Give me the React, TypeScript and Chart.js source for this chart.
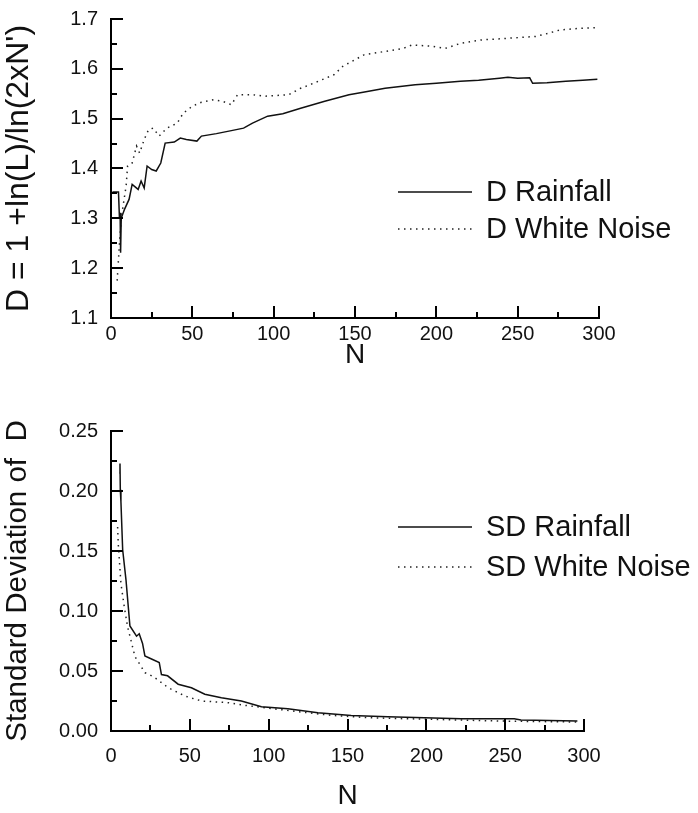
import React, { useEffect, useRef } from "react";
import { Chart, registerables } from "chart.js";

Chart.register(...registerables);

const FONT = "'Liberation Sans', Arial, Helvetica, sans-serif";

// ---------- Top panel: D vs N ----------
const rainN = [0.9, 4.6, 5.2, 5.6, 5.9, 6.3, 8.3, 11.1, 13, 16.7, 18.5, 20.4, 22.2, 25, 27.8, 30.6, 33.3, 38.9, 42.6, 46.3, 52.8, 55.6, 64.8, 74, 81.5, 87, 96.3, 105.6, 116.6, 131.4, 146.3, 155, 168.5, 187, 200, 214.8, 226, 238.8, 244, 250, 257.4, 259.2, 268, 279.6, 290, 299];
const rainD = [1.353, 1.353, 1.30, 1.311, 1.231, 1.30, 1.318, 1.338, 1.368, 1.358, 1.375, 1.361, 1.405, 1.398, 1.395, 1.411, 1.451, 1.453, 1.461, 1.458, 1.455, 1.465, 1.47, 1.476, 1.481, 1.491, 1.505, 1.51, 1.521, 1.535, 1.548, 1.553, 1.561, 1.568, 1.571, 1.575, 1.577, 1.581, 1.583, 1.581, 1.582, 1.571, 1.572, 1.575, 1.577, 1.579];

const noiseN = [3.8, 4.6, 5.4, 6.5, 9.3, 10.2, 13, 15.7, 17.6, 20.4, 23.1, 25.9, 29.6, 34.3, 40.7, 44.4, 50, 55.6, 63, 68.5, 74, 77.8, 87, 94.4, 109.2, 116.6, 122.2, 129.6, 137, 142.5, 148.1, 155.5, 168.5, 179.6, 185.1, 198.1, 205.5, 214.8, 227.7, 242.6, 261.1, 268.5, 275.9, 287, 300];
const noiseD = [1.175, 1.218, 1.26, 1.305, 1.365, 1.405, 1.411, 1.445, 1.431, 1.458, 1.478, 1.481, 1.465, 1.481, 1.491, 1.511, 1.525, 1.533, 1.538, 1.535, 1.528, 1.548, 1.548, 1.545, 1.548, 1.561, 1.568, 1.578, 1.588, 1.605, 1.615, 1.628, 1.635, 1.641, 1.648, 1.645, 1.641, 1.651, 1.658, 1.661, 1.665, 1.671, 1.678, 1.681, 1.683];

// ---------- Bottom panel: SD vs N ----------
const sdRainN = [5.2, 5.7, 5.9, 6.3, 7.4, 9.5, 12, 16.2, 17.9, 20, 21.5, 25.7, 30.6, 32, 35.9, 42.6, 51, 59.5, 70, 82.7, 95.4, 112.2, 131.2, 152.3, 175.5, 198.7, 222, 255.7, 260, 295.8];
const sdRainV = [0.215, 0.223, 0.201, 0.191, 0.151, 0.126, 0.0875, 0.079, 0.081, 0.073, 0.0625, 0.060, 0.057, 0.047, 0.046, 0.039, 0.036, 0.0306, 0.0278, 0.025, 0.0203, 0.0186, 0.0153, 0.013, 0.0119, 0.0111, 0.0103, 0.0103, 0.0092, 0.0083];

const sdNoiseN = [4.2, 4.6, 5.3, 6.3, 8.4, 10.5, 13.7, 15.2, 17.9, 21.5, 24.3, 27.8, 36.3, 46.8, 57.4, 74.3, 84.8, 100, 120.7, 140, 162.9, 185, 205, 225, 247.3, 270, 295.8];
const sdNoiseV = [0.170, 0.156, 0.1425, 0.123, 0.1036, 0.087, 0.070, 0.062, 0.0564, 0.0486, 0.047, 0.0444, 0.0361, 0.0292, 0.025, 0.0236, 0.0214, 0.019, 0.0158, 0.013, 0.0111, 0.0103, 0.0097, 0.009, 0.0083, 0.0079, 0.0075];

// ---------- Axis settings ----------
const xTickValues = [0, 50, 100, 150, 200, 250, 300];
const topYTickValues = [1.1, 1.2, 1.3, 1.4, 1.5, 1.6, 1.7];
const bottomYTickValues = [0, 0.05, 0.1, 0.15, 0.2, 0.25];

const topYTitle = "D = 1 +ln(L)/ln(2xN')";
const bottomYTitle = "Standard Deviation of  D";
const xTitle = "N";

const topLabels = ["D Rainfall", "D White Noise"];
const bottomLabels = ["SD Rainfall", "SD White Noise"];

const INK = "#111";
const DOT_DASH = [1.5, 4.5];

const pts = (xs: number[], ys: number[]) => xs.map((x, i) => ({ x, y: ys[i] }));

const decor = {
  id: "decor",
  afterDraw(chart: any, _args: any, opts: any) {
    const { ctx, chartArea: a, scales } = chart;
    const xs = scales.x;
    const ys = scales.y;
    ctx.save();
    ctx.strokeStyle = "#000";
    ctx.lineWidth = 2;
    const xMinor = opts.xStep / 2;
    for (let i = 0; xs.min + i * xMinor <= xs.max + 1e-9; i++) {
      const v = xs.min + i * xMinor;
      const px = Math.round(xs.getPixelForValue(v));
      const len = i % 2 === 0 ? 12 : 6;
      ctx.beginPath();
      ctx.moveTo(px, a.bottom);
      ctx.lineTo(px, a.bottom - len);
      ctx.stroke();
    }
    const yMinor = opts.yStep / 2;
    for (let i = 0; ys.min + i * yMinor <= ys.max + 1e-9; i++) {
      const v = ys.min + i * yMinor;
      const py = Math.round(ys.getPixelForValue(v));
      const len = i % 2 === 0 ? 12 : 6;
      ctx.beginPath();
      ctx.moveTo(a.left, py);
      ctx.lineTo(a.left + len, py);
      ctx.stroke();
    }
    ctx.font = `${opts.legendFont}px ${FONT}`;
    ctx.fillStyle = INK;
    ctx.textBaseline = "middle";
    ctx.textAlign = "left";
    chart.data.datasets.forEach((ds: any, i: number) => {
      const y = opts.legendY + i * opts.legendGap;
      ctx.strokeStyle = ds.borderColor;
      ctx.lineWidth = ds.borderWidth;
      ctx.setLineDash(ds.borderDash || []);
      ctx.beginPath();
      ctx.moveTo(opts.legendX, y);
      ctx.lineTo(opts.legendX + opts.legendLine, y);
      ctx.stroke();
      ctx.setLineDash([]);
      ctx.fillText(ds.label, opts.legendX + opts.legendLine + 14, y + 1);
    });
    ctx.restore();
  },
};

function makeConfig(p: any) {
  return {
    type: "line",
    data: {
      datasets: [
        {
          label: p.labels[0],
          data: pts(p.aN, p.aV),
          borderColor: INK,
          borderWidth: 1.5,
          pointRadius: 0,
          tension: 0,
          fill: false,
        },
        {
          label: p.labels[1],
          data: pts(p.bN, p.bV),
          borderColor: "#222",
          borderWidth: 1.5,
          borderDash: DOT_DASH,
          pointRadius: 0,
          tension: 0,
          fill: false,
        },
      ],
    },
    options: {
      responsive: false,
      animation: false,
      events: [],
      layout: { padding: p.padding },
      plugins: {
        legend: { display: false },
        tooltip: { enabled: false },
        decor: p.decor,
      },
      scales: {
        x: {
          type: "linear",
          min: 0,
          max: 300,
          afterFit: (s: any) => { s.height = p.xHeight; },
          afterBuildTicks: (s: any) => { s.ticks = xTickValues.map((v) => ({ value: v })); },
          grid: { display: false },
          border: { display: true, color: "#000", width: 2 },
          ticks: {
            color: INK,
            padding: p.xTickPad,
            maxRotation: 0,
            autoSkip: false,
            font: { family: FONT, size: 20 },
            callback: (v: any) => String(v),
          },
          title: {
            display: true,
            text: xTitle,
            color: INK,
            font: { family: FONT, size: 28 },
            padding: { top: 0, bottom: p.xTitlePad },
          },
        },
        y: {
          type: "linear",
          min: p.yMin,
          max: p.yMax,
          afterFit: (s: any) => { s.width = 111; },
          afterBuildTicks: (s: any) => { s.ticks = p.yTicks.map((v: number) => ({ value: v })); },
          grid: { display: false },
          border: { display: true, color: "#000", width: 2 },
          ticks: {
            color: INK,
            padding: 5,
            autoSkip: false,
            font: { family: FONT, size: 20 },
            callback: (v: any) => Number(v).toFixed(p.yDecimals),
          },
          title: {
            display: true,
            text: p.yTitle,
            color: INK,
            font: { family: FONT, size: p.yTitleSize },
            padding: { top: 0, bottom: 0 },
          },
        },
      },
    },
    plugins: [decor],
  };
}

function Panel(props: { top: number; height: number; cfg: any }) {
  const ref = useRef<HTMLCanvasElement | null>(null);
  useEffect(() => {
    if (!ref.current) return;
    const chart = new Chart(ref.current, props.cfg as any);
    return () => chart.destroy();
  }, []);
  return (
    <canvas
      ref={ref}
      width={698}
      height={props.height}
      style={{ position: "absolute", left: 0, top: props.top, width: 698, height: props.height, display: "block" }}
    />
  );
}

export default function App() {
  const topCfg = makeConfig({
    aN: rainN, aV: rainD, bN: noiseN, bV: noiseD,
    labels: topLabels,
    yMin: 1.1, yMax: 1.7, yTicks: topYTickValues, yDecimals: 1,
    yTitle: topYTitle, yTitleSize: 32,
    padding: { left: 0, top: 19, right: 99, bottom: 27 },
    xHeight: 60,
    xTickPad: -4,
    xTitlePad: 6,
    decor: { xStep: 50, yStep: 0.1, legendX: 398, legendY: 192, legendGap: 37, legendLine: 74, legendFont: 29 },
  });
  const bottomCfg = makeConfig({
    aN: sdRainN, aV: sdRainV, bN: sdNoiseN, bV: sdNoiseV,
    labels: bottomLabels,
    yMin: 0, yMax: 0.25, yTicks: bottomYTickValues, yDecimals: 2,
    yTitle: bottomYTitle, yTitleSize: 29.5,
    padding: { left: 0, top: 26, right: 114, bottom: 0 },
    xHeight: 408 - 326,
    xTickPad: 5,
    xTitlePad: 0,
    decor: { xStep: 50, yStep: 0.05, legendX: 398, legendY: 122, legendGap: 40, legendLine: 74, legendFont: 29 },
  });
  return (
    <div style={{ position: "absolute", left: 0, top: 0, width: 698, height: 813 }}>
      <Panel top={0} height={405} cfg={topCfg} />
      <Panel top={405} height={408} cfg={bottomCfg} />
    </div>
  );
}
